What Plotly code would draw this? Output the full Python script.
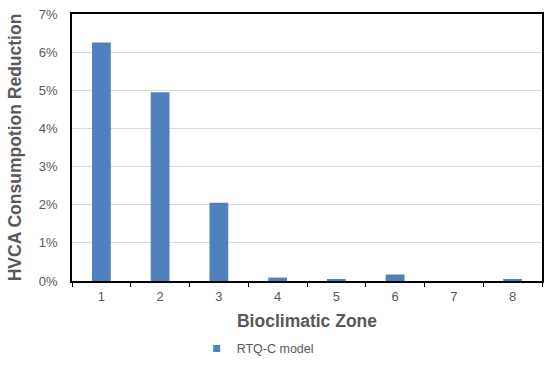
import plotly.graph_objects as go

zones = ["1", "2", "3", "4", "5", "6", "7", "8"]
reduction = [0.0625, 0.0495, 0.0205, 0.0009, 0.0004, 0.0017, 0.0, 0.0004]
series_name = "RTQ-C model"
y_ticks = [0, 0.01, 0.02, 0.03, 0.04, 0.05, 0.06, 0.07]

bar_color = "#4F81BD"
fig = go.Figure()
fig.add_trace(go.Bar(x=zones, y=reduction, name=series_name,
                     marker=dict(color=bar_color, line=dict(width=0)),
                     showlegend=False))
# legend entry with a small square swatch
fig.add_trace(go.Scatter(x=[None], y=[None], mode="markers", name=series_name,
                         marker=dict(symbol="square", size=7, color=bar_color),
                         showlegend=True))

font_family = "Liberation Sans, Arial, sans-serif"
fig.update_layout(
    width=550, height=365,
    margin=dict(l=72, r=8, t=14, b=84),
    paper_bgcolor="white", plot_bgcolor="white",
    bargap=0.68,
    font=dict(family=font_family, size=13, color="#595959"),
    showlegend=True,
    legend=dict(orientation="h", x=0.395, xanchor="center",
                yref="container", y=0.044, yanchor="middle",
                font=dict(size=12.5, color="#595959"), itemwidth=30),
    xaxis=dict(type="category", tickson="boundaries", ticks="outside", ticklen=4,
               tickcolor="#000000", showline=True, linecolor="#000000", linewidth=1.5,
               mirror=True, tickfont=dict(size=13, color="#595959"),
               ticklabelstandoff=3, automargin=False,
               title=dict(text="<b>Bioclimatic Zone</b>", standoff=11,
                          font=dict(size=17.5, color="#595959"))),
    yaxis=dict(range=[0, 0.07], tickvals=y_ticks, tickformat=".0%",
               showgrid=True, gridcolor="#D9D9D9", gridwidth=1,
               showline=True, linecolor="#000000", linewidth=1.5, mirror=True,
               ticks="", zeroline=False, ticklabelstandoff=10,
               automargin=False,
               tickfont=dict(size=13, color="#595959"),
               title=dict(text="<b>HVCA Consumpotion Reduction</b>", standoff=13,
                          font=dict(size=17.5, color="#595959"))),
)

fig.write_html("out.html", config={"displayModeBar": False},
               post_script="document.body.style.margin='0';")
